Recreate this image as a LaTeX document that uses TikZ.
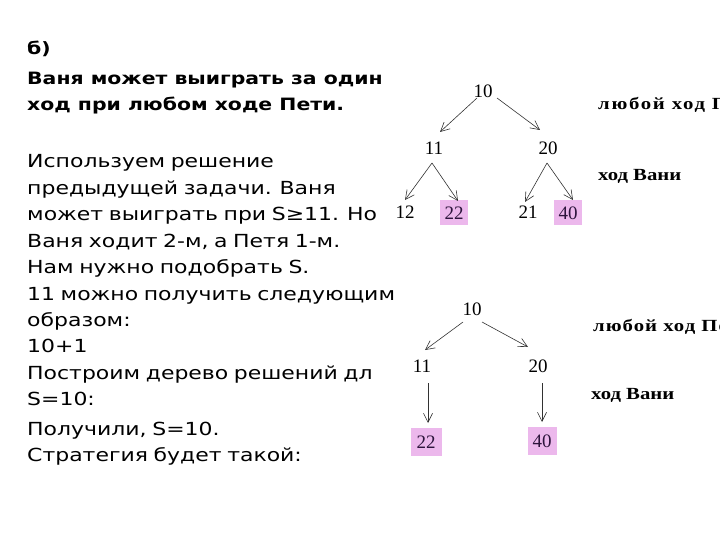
\documentclass[tikz,border=0pt]{standalone}
\usepackage{fontspec}
\setmainfont{DejaVu Sans}
\newfontfamily\gothic[FakeStretch=1.22,WordSpace=0.8]{DejaVu Sans}
\newfontfamily\gothicb[FakeStretch=1.2]{DejaVu Sans Bold}
\newfontfamily\timesf{Liberation Serif}
\newfontfamily\timesw[FakeStretch=1.22]{Liberation Serif Bold}
\newfontfamily\timesl[FakeStretch=1.22,LetterSpace=10]{Liberation Serif Bold}
\newfontfamily\timesm[FakeStretch=1.22,LetterSpace=6]{Liberation Serif Bold}
\usetikzlibrary{arrows.meta}
\definecolor{pick}{RGB}{236,184,236}
\definecolor{ink}{RGB}{45,20,60}
\definecolor{arr}{RGB}{50,50,50}

\begin{document}
\begin{tikzpicture}[x=1pt,y=-1pt,
  num/.style={font=\timesf\fontsize{19}{19}\selectfont, inner sep=1.5pt},
  win/.style={num, text=ink, fill=pick, minimum width=28pt, minimum height=25pt},
  mv/.style={arr, semithick, -{Straight Barb[length=9pt,width=9pt]}},
  line/.style={anchor=base west, inner sep=0pt},
  side/.style={font=\timesw\fontsize{17}{17}\selectfont, anchor=base west, inner sep=0pt}]
  \useasboundingbox (0,0) rectangle (720,540);
  \clip (0,0) rectangle (720,540);

  % Left column of text
  \foreach \txt/\yy [count=\i] in {б)/55,Ваня может выиграть за один/85,ход при любом ходе Пети./111}
    \node[line, font=\gothicb\fontsize{17}{17}\selectfont] (head\i) at (27,\yy) {\txt};
  \foreach \txt [count=\i] in {Используем решение,
      предыдущей задачи. Ваня,
      может выиграть при S≥11. Но,
      {Ваня ходит 2-м, а Петя 1-м.},
      Нам нужно подобрать S.,
      11 можно получить следующим,
      образом:,
      10+1,
      Построим дерево решений дл,
      S=10:,
      {Получили, S=10.},
      Стратегия будет такой:}
  {
    \pgfmathsetmacro\yy{168+26.4*(\i-1)+3*(\i>10)}
    \node[line, font=\gothic\fontsize{18}{18}\selectfont] (body\i) at (27,\yy) {\txt};
  }

  % Tree for one move of Vanya
  \node[num] (t10) at (483,91) {10};
  \node[num] (t11) at (434,148) {11};
  \node[num] (t20) at (548,148) {20};
  \node[num] (t12) at (405,212) {12};
  \node[win] (t22) at (454,213) {22};
  \node[num] (t21) at (528,212) {21};
  \node[win] (t40) at (568,213) {40};
  \draw[mv] ([shift={(-6,7)}]t10.center) -- ([shift={(6,-16)}]t11.center);
  \draw[mv] ([shift={(14,7)}]t10.center) -- ([shift={(-8,-18)}]t20.center);
  \draw[mv] ([shift={(-2,15)}]t11.center) -- ([shift={(0,-12)}]t12.center);
  \draw[mv] ([shift={(-2,15)}]t11.center) -- ([shift={(4,-12)}]t22.center);
  \draw[mv] ([shift={(-1,15)}]t20.center) -- ([shift={(-3,-10)}]t21.center);
  \draw[mv] ([shift={(-1,15)}]t20.center) -- ([shift={(5,-13)}]t40.center);
  \node[side, font=\timesl\fontsize{17}{17}\selectfont] (p1) at (598,110) {любой ход Пети};
  \node[side] (v1) at (598,181) {ход Вани};

  % Tree for the strategy
  \node[num] (b10) at (472,309) {10};
  \node[num] (b11) at (422,366) {11};
  \node[num] (b20) at (538,366) {20};
  \node[win, minimum width=31pt, minimum height=28pt] (b22) at (426,442) {22};
  \node[win, minimum width=29pt, minimum height=28pt] (b40) at (542,441) {40};
  \draw[mv] ([shift={(-9,13)}]b10.center) -- ([shift={(3,-16)}]b11.center);
  \draw[mv] ([shift={(10,13)}]b10.center) -- ([shift={(-10,-19)}]b20.center);
  \draw[mv] ([shift={(6,17)}]b11.center) -- ([shift={(2,-19)}]b22.center);
  \draw[mv] ([shift={(4,17)}]b20.center) -- ([shift={(0,-19)}]b40.center);
  \node[side, font=\timesm\fontsize{17}{17}\selectfont] (p2) at (593,331) {любой ход Пети};
  \node[side] (v2) at (591,399) {ход Вани};
\end{tikzpicture}
\end{document}
